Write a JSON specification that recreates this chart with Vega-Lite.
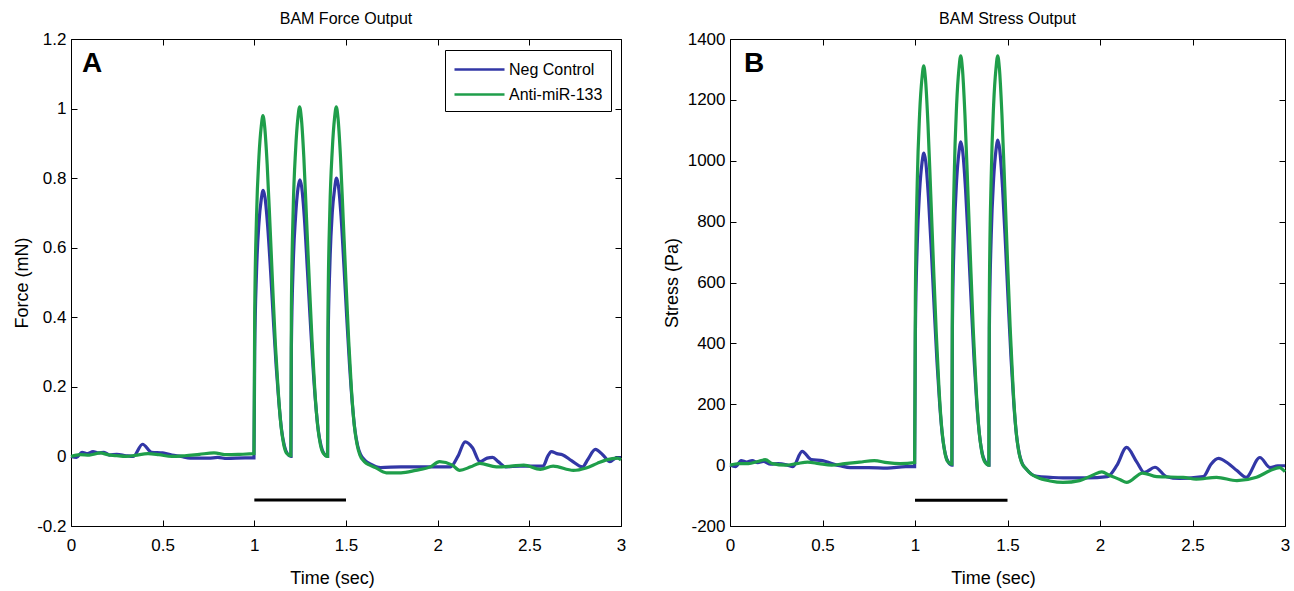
{
  "$schema": "https://vega.github.io/schema/vega-lite/v6.json",
  "bounds": "flush",
  "spacing": 109,
  "padding": {"left": 13, "top": 11, "right": 5, "bottom": 5},
  "datasets": {
    "A": [
      {"s":"Neg Control","t":0,"v":0},{"s":"Neg Control","t":0.03,"v":-0.003},{"s":"Neg Control","t":0.06,"v":0.012},{"s":"Neg Control","t":0.09,"v":0.008},{"s":"Neg Control","t":0.12,"v":0.014},{"s":"Neg Control","t":0.15,"v":0.01},{"s":"Neg Control","t":0.18,"v":0.012},{"s":"Neg Control","t":0.21,"v":0.004},{"s":"Neg Control","t":0.25,"v":0.006},{"s":"Neg Control","t":0.3,"v":0.002},{"s":"Neg Control","t":0.34,"v":0},{"s":"Neg Control","t":0.39,"v":0.035},{"s":"Neg Control","t":0.44,"v":0.012},{"s":"Neg Control","t":0.5,"v":0.01},{"s":"Neg Control","t":0.55,"v":0.004},{"s":"Neg Control","t":0.6,"v":0},{"s":"Neg Control","t":0.65,"v":-0.005},{"s":"Neg Control","t":0.75,"v":-0.005},{"s":"Neg Control","t":0.8,"v":-0.003},{"s":"Neg Control","t":0.85,"v":-0.006},{"s":"Neg Control","t":0.95,"v":-0.004},{"s":"Neg Control","t":0.998,"v":-0.004},
      {"s":"Neg Control","t":1.002,"v":0.3},{"s":"Neg Control","t":1.012,"v":0.53},{"s":"Neg Control","t":1.025,"v":0.67},{"s":"Neg Control","t":1.038,"v":0.74},{"s":"Neg Control","t":1.048,"v":0.765},{"s":"Neg Control","t":1.058,"v":0.745},{"s":"Neg Control","t":1.073,"v":0.66},{"s":"Neg Control","t":1.089,"v":0.53},{"s":"Neg Control","t":1.104,"v":0.39},{"s":"Neg Control","t":1.119,"v":0.26},{"s":"Neg Control","t":1.134,"v":0.155},{"s":"Neg Control","t":1.149,"v":0.075},{"s":"Neg Control","t":1.164,"v":0.03},{"s":"Neg Control","t":1.18,"v":0.008},{"s":"Neg Control","t":1.2,"v":0},
      {"s":"Neg Control","t":1.202,"v":0.31},{"s":"Neg Control","t":1.212,"v":0.55},{"s":"Neg Control","t":1.225,"v":0.69},{"s":"Neg Control","t":1.238,"v":0.77},{"s":"Neg Control","t":1.248,"v":0.795},{"s":"Neg Control","t":1.258,"v":0.775},{"s":"Neg Control","t":1.273,"v":0.685},{"s":"Neg Control","t":1.289,"v":0.54},{"s":"Neg Control","t":1.304,"v":0.4},{"s":"Neg Control","t":1.319,"v":0.265},{"s":"Neg Control","t":1.334,"v":0.155},{"s":"Neg Control","t":1.349,"v":0.075},{"s":"Neg Control","t":1.364,"v":0.03},{"s":"Neg Control","t":1.38,"v":0.008},{"s":"Neg Control","t":1.4,"v":0},
      {"s":"Neg Control","t":1.402,"v":0.31},{"s":"Neg Control","t":1.412,"v":0.55},{"s":"Neg Control","t":1.425,"v":0.7},{"s":"Neg Control","t":1.438,"v":0.77},{"s":"Neg Control","t":1.448,"v":0.8},{"s":"Neg Control","t":1.458,"v":0.78},{"s":"Neg Control","t":1.473,"v":0.69},{"s":"Neg Control","t":1.489,"v":0.545},{"s":"Neg Control","t":1.504,"v":0.4},{"s":"Neg Control","t":1.519,"v":0.265},{"s":"Neg Control","t":1.534,"v":0.155},{"s":"Neg Control","t":1.549,"v":0.075},{"s":"Neg Control","t":1.564,"v":0.03},{"s":"Neg Control","t":1.58,"v":0.005},{"s":"Neg Control","t":1.605,"v":-0.012},{"s":"Neg Control","t":1.635,"v":-0.022},{"s":"Neg Control","t":1.665,"v":-0.03},
      {"s":"Neg Control","t":1.69,"v":-0.032},{"s":"Neg Control","t":1.8,"v":-0.03},{"s":"Neg Control","t":1.95,"v":-0.03},{"s":"Neg Control","t":2.07,"v":-0.03},{"s":"Neg Control","t":2.11,"v":0},{"s":"Neg Control","t":2.15,"v":0.042},{"s":"Neg Control","t":2.19,"v":0.025},{"s":"Neg Control","t":2.23,"v":-0.015},{"s":"Neg Control","t":2.27,"v":-0.005},{"s":"Neg Control","t":2.3,"v":-0.003},{"s":"Neg Control","t":2.33,"v":-0.015},{"s":"Neg Control","t":2.37,"v":-0.03},{"s":"Neg Control","t":2.45,"v":-0.028},{"s":"Neg Control","t":2.575,"v":-0.028},{"s":"Neg Control","t":2.6,"v":0},{"s":"Neg Control","t":2.62,"v":0.014},{"s":"Neg Control","t":2.65,"v":0.008},{"s":"Neg Control","t":2.68,"v":0.005},{"s":"Neg Control","t":2.73,"v":-0.012},{"s":"Neg Control","t":2.79,"v":-0.03},{"s":"Neg Control","t":2.82,"v":-0.008},{"s":"Neg Control","t":2.86,"v":0.02},{"s":"Neg Control","t":2.9,"v":0.005},{"s":"Neg Control","t":2.94,"v":-0.015},{"s":"Neg Control","t":2.97,"v":-0.005},{"s":"Neg Control","t":3,"v":-0.003},
      {"s":"Anti-miR-133","t":0,"v":0},{"s":"Anti-miR-133","t":0.05,"v":0.005},{"s":"Anti-miR-133","t":0.1,"v":0.004},{"s":"Anti-miR-133","t":0.16,"v":0.01},{"s":"Anti-miR-133","t":0.2,"v":0.005},{"s":"Anti-miR-133","t":0.25,"v":0.002},{"s":"Anti-miR-133","t":0.3,"v":0},{"s":"Anti-miR-133","t":0.35,"v":0.003},{"s":"Anti-miR-133","t":0.42,"v":0.008},{"s":"Anti-miR-133","t":0.48,"v":0.005},{"s":"Anti-miR-133","t":0.55,"v":0},{"s":"Anti-miR-133","t":0.62,"v":0.002},{"s":"Anti-miR-133","t":0.7,"v":0.006},{"s":"Anti-miR-133","t":0.78,"v":0.01},{"s":"Anti-miR-133","t":0.85,"v":0.005},{"s":"Anti-miR-133","t":0.92,"v":0.006},{"s":"Anti-miR-133","t":0.998,"v":0.008},
      {"s":"Anti-miR-133","t":1.002,"v":0.41},{"s":"Anti-miR-133","t":1.012,"v":0.69},{"s":"Anti-miR-133","t":1.025,"v":0.86},{"s":"Anti-miR-133","t":1.038,"v":0.95},{"s":"Anti-miR-133","t":1.047,"v":0.98},{"s":"Anti-miR-133","t":1.056,"v":0.95},{"s":"Anti-miR-133","t":1.07,"v":0.84},{"s":"Anti-miR-133","t":1.085,"v":0.67},{"s":"Anti-miR-133","t":1.1,"v":0.49},{"s":"Anti-miR-133","t":1.115,"v":0.32},{"s":"Anti-miR-133","t":1.13,"v":0.19},{"s":"Anti-miR-133","t":1.145,"v":0.09},{"s":"Anti-miR-133","t":1.16,"v":0.035},{"s":"Anti-miR-133","t":1.175,"v":0.01},{"s":"Anti-miR-133","t":1.199,"v":0.002},
      {"s":"Anti-miR-133","t":1.202,"v":0.42},{"s":"Anti-miR-133","t":1.212,"v":0.71},{"s":"Anti-miR-133","t":1.225,"v":0.88},{"s":"Anti-miR-133","t":1.238,"v":0.975},{"s":"Anti-miR-133","t":1.247,"v":1.005},{"s":"Anti-miR-133","t":1.256,"v":0.975},{"s":"Anti-miR-133","t":1.27,"v":0.86},{"s":"Anti-miR-133","t":1.285,"v":0.68},{"s":"Anti-miR-133","t":1.3,"v":0.5},{"s":"Anti-miR-133","t":1.315,"v":0.33},{"s":"Anti-miR-133","t":1.33,"v":0.19},{"s":"Anti-miR-133","t":1.345,"v":0.09},{"s":"Anti-miR-133","t":1.36,"v":0.035},{"s":"Anti-miR-133","t":1.375,"v":0.01},{"s":"Anti-miR-133","t":1.399,"v":0},
      {"s":"Anti-miR-133","t":1.402,"v":0.42},{"s":"Anti-miR-133","t":1.412,"v":0.71},{"s":"Anti-miR-133","t":1.425,"v":0.88},{"s":"Anti-miR-133","t":1.438,"v":0.975},{"s":"Anti-miR-133","t":1.447,"v":1.005},{"s":"Anti-miR-133","t":1.456,"v":0.975},{"s":"Anti-miR-133","t":1.47,"v":0.86},{"s":"Anti-miR-133","t":1.485,"v":0.68},{"s":"Anti-miR-133","t":1.5,"v":0.5},{"s":"Anti-miR-133","t":1.515,"v":0.33},{"s":"Anti-miR-133","t":1.53,"v":0.19},{"s":"Anti-miR-133","t":1.545,"v":0.09},{"s":"Anti-miR-133","t":1.56,"v":0.035},{"s":"Anti-miR-133","t":1.575,"v":0.005},{"s":"Anti-miR-133","t":1.6,"v":-0.015},{"s":"Anti-miR-133","t":1.63,"v":-0.025},{"s":"Anti-miR-133","t":1.66,"v":-0.032},
      {"s":"Anti-miR-133","t":1.72,"v":-0.047},{"s":"Anti-miR-133","t":1.8,"v":-0.047},{"s":"Anti-miR-133","t":1.88,"v":-0.04},{"s":"Anti-miR-133","t":1.96,"v":-0.03},{"s":"Anti-miR-133","t":2.01,"v":-0.015},{"s":"Anti-miR-133","t":2.08,"v":-0.025},{"s":"Anti-miR-133","t":2.12,"v":-0.04},{"s":"Anti-miR-133","t":2.18,"v":-0.03},{"s":"Anti-miR-133","t":2.23,"v":-0.02},{"s":"Anti-miR-133","t":2.32,"v":-0.03},{"s":"Anti-miR-133","t":2.4,"v":-0.028},{"s":"Anti-miR-133","t":2.47,"v":-0.025},{"s":"Anti-miR-133","t":2.56,"v":-0.037},{"s":"Anti-miR-133","t":2.63,"v":-0.028},{"s":"Anti-miR-133","t":2.74,"v":-0.04},{"s":"Anti-miR-133","t":2.81,"v":-0.033},{"s":"Anti-miR-133","t":2.87,"v":-0.02},{"s":"Anti-miR-133","t":2.92,"v":-0.01},{"s":"Anti-miR-133","t":2.98,"v":-0.005},{"s":"Anti-miR-133","t":3,"v":-0.01}
    ],
    "B": [
      {"s":"Neg Control","t":0,"v":0},{"s":"Neg Control","t":0.03,"v":-5},{"s":"Neg Control","t":0.06,"v":15},{"s":"Neg Control","t":0.09,"v":10},{"s":"Neg Control","t":0.12,"v":15},{"s":"Neg Control","t":0.15,"v":8},{"s":"Neg Control","t":0.18,"v":12},{"s":"Neg Control","t":0.22,"v":3},{"s":"Neg Control","t":0.26,"v":5},{"s":"Neg Control","t":0.31,"v":0},{"s":"Neg Control","t":0.34,"v":-5},{"s":"Neg Control","t":0.39,"v":45},{"s":"Neg Control","t":0.44,"v":18},{"s":"Neg Control","t":0.5,"v":15},{"s":"Neg Control","t":0.55,"v":5},{"s":"Neg Control","t":0.6,"v":-3},{"s":"Neg Control","t":0.65,"v":-8},{"s":"Neg Control","t":0.75,"v":-8},{"s":"Neg Control","t":0.85,"v":-10},{"s":"Neg Control","t":0.95,"v":-5},{"s":"Neg Control","t":0.998,"v":-5},
      {"s":"Neg Control","t":1.002,"v":430},{"s":"Neg Control","t":1.012,"v":723},{"s":"Neg Control","t":1.025,"v":902},{"s":"Neg Control","t":1.038,"v":994},{"s":"Neg Control","t":1.048,"v":1025},{"s":"Neg Control","t":1.058,"v":997},{"s":"Neg Control","t":1.073,"v":876},{"s":"Neg Control","t":1.089,"v":697},{"s":"Neg Control","t":1.104,"v":513},{"s":"Neg Control","t":1.119,"v":338},{"s":"Neg Control","t":1.134,"v":195},{"s":"Neg Control","t":1.149,"v":92},{"s":"Neg Control","t":1.164,"v":36},{"s":"Neg Control","t":1.18,"v":10},{"s":"Neg Control","t":1.2,"v":0},
      {"s":"Neg Control","t":1.202,"v":446},{"s":"Neg Control","t":1.212,"v":749},{"s":"Neg Control","t":1.225,"v":935},{"s":"Neg Control","t":1.238,"v":1030},{"s":"Neg Control","t":1.248,"v":1062},{"s":"Neg Control","t":1.258,"v":1030},{"s":"Neg Control","t":1.273,"v":908},{"s":"Neg Control","t":1.289,"v":722},{"s":"Neg Control","t":1.304,"v":531},{"s":"Neg Control","t":1.319,"v":350},{"s":"Neg Control","t":1.334,"v":202},{"s":"Neg Control","t":1.349,"v":96},{"s":"Neg Control","t":1.364,"v":37},{"s":"Neg Control","t":1.38,"v":11},{"s":"Neg Control","t":1.4,"v":0},
      {"s":"Neg Control","t":1.402,"v":449},{"s":"Neg Control","t":1.412,"v":753},{"s":"Neg Control","t":1.425,"v":940},{"s":"Neg Control","t":1.438,"v":1036},{"s":"Neg Control","t":1.448,"v":1068},{"s":"Neg Control","t":1.458,"v":1036},{"s":"Neg Control","t":1.473,"v":913},{"s":"Neg Control","t":1.489,"v":726},{"s":"Neg Control","t":1.504,"v":534},{"s":"Neg Control","t":1.519,"v":352},{"s":"Neg Control","t":1.534,"v":203},{"s":"Neg Control","t":1.549,"v":96},{"s":"Neg Control","t":1.564,"v":37},{"s":"Neg Control","t":1.58,"v":5},{"s":"Neg Control","t":1.605,"v":-15},{"s":"Neg Control","t":1.63,"v":-30},{"s":"Neg Control","t":1.66,"v":-37},
      {"s":"Neg Control","t":1.73,"v":-40},{"s":"Neg Control","t":1.8,"v":-42},{"s":"Neg Control","t":1.93,"v":-42},{"s":"Neg Control","t":2.04,"v":-38},{"s":"Neg Control","t":2.09,"v":-2},{"s":"Neg Control","t":2.144,"v":58},{"s":"Neg Control","t":2.2,"v":9},{"s":"Neg Control","t":2.24,"v":-24},{"s":"Neg Control","t":2.297,"v":-7},{"s":"Neg Control","t":2.36,"v":-38},{"s":"Neg Control","t":2.43,"v":-44},{"s":"Neg Control","t":2.558,"v":-38},{"s":"Neg Control","t":2.6,"v":3},{"s":"Neg Control","t":2.64,"v":22},{"s":"Neg Control","t":2.69,"v":7},{"s":"Neg Control","t":2.74,"v":-18},{"s":"Neg Control","t":2.79,"v":-40},{"s":"Neg Control","t":2.864,"v":25},{"s":"Neg Control","t":2.92,"v":-8},{"s":"Neg Control","t":2.96,"v":-2},{"s":"Neg Control","t":3,"v":-2},
      {"s":"Anti-miR-133","t":0,"v":0},{"s":"Anti-miR-133","t":0.05,"v":5},{"s":"Anti-miR-133","t":0.1,"v":5},{"s":"Anti-miR-133","t":0.15,"v":12},{"s":"Anti-miR-133","t":0.19,"v":18},{"s":"Anti-miR-133","t":0.23,"v":5},{"s":"Anti-miR-133","t":0.3,"v":0},{"s":"Anti-miR-133","t":0.36,"v":5},{"s":"Anti-miR-133","t":0.42,"v":10},{"s":"Anti-miR-133","t":0.48,"v":5},{"s":"Anti-miR-133","t":0.55,"v":0},{"s":"Anti-miR-133","t":0.62,"v":5},{"s":"Anti-miR-133","t":0.7,"v":10},{"s":"Anti-miR-133","t":0.78,"v":15},{"s":"Anti-miR-133","t":0.85,"v":8},{"s":"Anti-miR-133","t":0.92,"v":5},{"s":"Anti-miR-133","t":0.998,"v":8},
      {"s":"Anti-miR-133","t":1.002,"v":551},{"s":"Anti-miR-133","t":1.012,"v":925},{"s":"Anti-miR-133","t":1.025,"v":1155},{"s":"Anti-miR-133","t":1.038,"v":1273},{"s":"Anti-miR-133","t":1.047,"v":1312},{"s":"Anti-miR-133","t":1.056,"v":1273},{"s":"Anti-miR-133","t":1.07,"v":1122},{"s":"Anti-miR-133","t":1.085,"v":892},{"s":"Anti-miR-133","t":1.1,"v":656},{"s":"Anti-miR-133","t":1.115,"v":433},{"s":"Anti-miR-133","t":1.13,"v":249},{"s":"Anti-miR-133","t":1.145,"v":118},{"s":"Anti-miR-133","t":1.16,"v":46},{"s":"Anti-miR-133","t":1.175,"v":13},{"s":"Anti-miR-133","t":1.199,"v":3},
      {"s":"Anti-miR-133","t":1.202,"v":565},{"s":"Anti-miR-133","t":1.212,"v":948},{"s":"Anti-miR-133","t":1.225,"v":1184},{"s":"Anti-miR-133","t":1.238,"v":1305},{"s":"Anti-miR-133","t":1.247,"v":1345},{"s":"Anti-miR-133","t":1.256,"v":1305},{"s":"Anti-miR-133","t":1.27,"v":1150},{"s":"Anti-miR-133","t":1.285,"v":915},{"s":"Anti-miR-133","t":1.3,"v":673},{"s":"Anti-miR-133","t":1.315,"v":444},{"s":"Anti-miR-133","t":1.33,"v":256},{"s":"Anti-miR-133","t":1.345,"v":121},{"s":"Anti-miR-133","t":1.36,"v":47},{"s":"Anti-miR-133","t":1.375,"v":13},{"s":"Anti-miR-133","t":1.399,"v":0},
      {"s":"Anti-miR-133","t":1.402,"v":565},{"s":"Anti-miR-133","t":1.412,"v":948},{"s":"Anti-miR-133","t":1.425,"v":1184},{"s":"Anti-miR-133","t":1.438,"v":1305},{"s":"Anti-miR-133","t":1.447,"v":1345},{"s":"Anti-miR-133","t":1.456,"v":1305},{"s":"Anti-miR-133","t":1.47,"v":1150},{"s":"Anti-miR-133","t":1.485,"v":915},{"s":"Anti-miR-133","t":1.5,"v":673},{"s":"Anti-miR-133","t":1.515,"v":444},{"s":"Anti-miR-133","t":1.53,"v":256},{"s":"Anti-miR-133","t":1.545,"v":121},{"s":"Anti-miR-133","t":1.56,"v":47},{"s":"Anti-miR-133","t":1.575,"v":10},{"s":"Anti-miR-133","t":1.6,"v":-12},{"s":"Anti-miR-133","t":1.625,"v":-28},
      {"s":"Anti-miR-133","t":1.66,"v":-40},{"s":"Anti-miR-133","t":1.73,"v":-52},{"s":"Anti-miR-133","t":1.8,"v":-57},{"s":"Anti-miR-133","t":1.89,"v":-51},{"s":"Anti-miR-133","t":1.96,"v":-33},{"s":"Anti-miR-133","t":2.01,"v":-22},{"s":"Anti-miR-133","t":2.05,"v":-33},{"s":"Anti-miR-133","t":2.11,"v":-48},{"s":"Anti-miR-133","t":2.144,"v":-57},{"s":"Anti-miR-133","t":2.23,"v":-26},{"s":"Anti-miR-133","t":2.306,"v":-38},{"s":"Anti-miR-133","t":2.45,"v":-40},{"s":"Anti-miR-133","t":2.52,"v":-46},{"s":"Anti-miR-133","t":2.63,"v":-40},{"s":"Anti-miR-133","t":2.74,"v":-51},{"s":"Anti-miR-133","t":2.846,"v":-40},{"s":"Anti-miR-133","t":2.92,"v":-18},{"s":"Anti-miR-133","t":2.97,"v":-8},{"s":"Anti-miR-133","t":3,"v":-22}
    ]
  },
  "hconcat": [
    {
      "width": 550,
      "height": 487,
      "title": {"text": "BAM Force Output"},
      "data": {"name": "A"},
      "layer": [
        {
          "transform": [{"filter": "datum.s == 'Neg Control'"}],
          "mark": {"type": "line", "strokeWidth": 3.2, "interpolate": "monotone"},
          "encoding": {
            "x": {"field": "t", "type": "quantitative", "scale": {"domain": [0, 3], "nice": false},
              "axis": {"orient": "bottom", "title": "Time (sec)", "values": [0, 0.5, 1, 1.5, 2, 2.5, 3], "labelExpr": "'' + datum.value", "labelPadding": 17, "titleX": 261, "titleY": 43}},
            "y": {"field": "v", "type": "quantitative", "scale": {"domain": [-0.2, 1.2], "nice": false, "zero": false},
              "axis": {"orient": "left", "title": "Force (mN)", "values": [-0.2, 0, 0.2, 0.4, 0.6, 0.8, 1, 1.2], "labelExpr": "'' + datum.value", "labelPadding": 11, "titleX": -40}},
            "color": {"field": "s", "type": "nominal", "scale": {"domain": ["Neg Control", "Anti-miR-133"], "range": ["#3237a6", "#1f9e4a"]},
              "legend": {"title": null, "orient": "none", "legendX": 374, "legendY": 11, "symbolType": "M-2.5,0H2.5", "symbolSize": 400, "symbolOffset": 15, "symbolStrokeWidth": 2.6, "labelOffset": 18, "labelFontSize": 16, "labelColor": "black", "padding": 8, "rowPadding": 5, "strokeColor": "black", "fillColor": "white", "cornerRadius": 0}}
          }
        },
        {
          "transform": [{"filter": "datum.s == 'Anti-miR-133'"}],
          "mark": {"type": "line", "strokeWidth": 3.2, "interpolate": "monotone"},
          "encoding": {
            "x": {"field": "t", "type": "quantitative", "axis": null},
            "y": {"field": "v", "type": "quantitative", "axis": null},
            "color": {"field": "s", "type": "nominal", "legend": null}
          }
        },
        {
          "data": {"values": [{"start": 1, "end": 1.5, "level": -0.125}]},
          "mark": {"type": "rule", "strokeWidth": 3, "color": "black"},
          "encoding": {
            "x": {"field": "start", "type": "quantitative", "axis": null},
            "x2": {"field": "end"},
            "y": {"field": "level", "type": "quantitative", "axis": null}
          }
        },
        {
          "data": {"values": [{"label": "A"}]},
          "mark": {"type": "text", "fontSize": 28, "fontWeight": "bold", "font": "Liberation Sans", "align": "left", "baseline": "middle", "color": "black"},
          "encoding": {
            "text": {"field": "label"},
            "x": {"datum": 0.06, "type": "quantitative", "axis": {"orient": "top", "labels": false, "title": null, "values": [0, 0.5, 1, 1.5, 2, 2.5, 3]}},
            "y": {"datum": 1.128, "type": "quantitative", "axis": {"orient": "right", "labels": false, "title": null, "values": [-0.2, 0, 0.2, 0.4, 0.6, 0.8, 1, 1.2]}}
          }
        }
      ]
    },
    {
      "width": 555,
      "height": 487,
      "title": {"text": "BAM Stress Output"},
      "data": {"name": "B"},
      "layer": [
        {
          "transform": [{"filter": "datum.s == 'Neg Control'"}],
          "mark": {"type": "line", "strokeWidth": 3.2, "interpolate": "monotone"},
          "encoding": {
            "x": {"field": "t", "type": "quantitative", "scale": {"domain": [0, 3], "nice": false},
              "axis": {"orient": "bottom", "title": "Time (sec)", "values": [0, 0.5, 1, 1.5, 2, 2.5, 3], "labelExpr": "'' + datum.value", "labelPadding": 17, "titleX": 263, "titleY": 43}},
            "y": {"field": "v", "type": "quantitative", "scale": {"domain": [-200, 1400], "nice": false, "zero": false},
              "axis": {"orient": "left", "title": "Stress (Pa)", "values": [-200, 0, 200, 400, 600, 800, 1000, 1200, 1400], "labelExpr": "'' + datum.value", "labelPadding": 11, "titleX": -49}},
            "color": {"field": "s", "type": "nominal", "scale": {"domain": ["Neg Control", "Anti-miR-133"], "range": ["#3237a6", "#1f9e4a"]},
              "legend": {"title": null, "orient": "none", "legendX": 376, "legendY": 11, "symbolType": "M-2.5,0H2.5", "symbolSize": 400, "symbolOffset": 15, "symbolStrokeWidth": 2.6, "labelOffset": 18, "labelFontSize": 16, "labelColor": "black", "padding": 8, "rowPadding": 5, "strokeColor": "black", "fillColor": "white", "cornerRadius": 0}}
          }
        },
        {
          "transform": [{"filter": "datum.s == 'Anti-miR-133'"}],
          "mark": {"type": "line", "strokeWidth": 3.2, "interpolate": "monotone"},
          "encoding": {
            "x": {"field": "t", "type": "quantitative", "axis": null},
            "y": {"field": "v", "type": "quantitative", "axis": null},
            "color": {"field": "s", "type": "nominal", "legend": null}
          }
        },
        {
          "data": {"values": [{"start": 1, "end": 1.5, "level": -115}]},
          "mark": {"type": "rule", "strokeWidth": 3, "color": "black"},
          "encoding": {
            "x": {"field": "start", "type": "quantitative", "axis": null},
            "x2": {"field": "end"},
            "y": {"field": "level", "type": "quantitative", "axis": null}
          }
        },
        {
          "data": {"values": [{"label": "B"}]},
          "mark": {"type": "text", "fontSize": 28, "fontWeight": "bold", "font": "Liberation Sans", "align": "left", "baseline": "middle", "color": "black"},
          "encoding": {
            "text": {"field": "label"},
            "x": {"datum": 0.075, "type": "quantitative", "axis": {"orient": "top", "labels": false, "title": null, "values": [0, 0.5, 1, 1.5, 2, 2.5, 3]}},
            "y": {"datum": 1318, "type": "quantitative", "axis": {"orient": "right", "labels": false, "title": null, "values": [-200, 0, 200, 400, 600, 800, 1000, 1200, 1400]}}
          }
        }
      ]
    }
  ],
  "config": {
    "font": "Liberation Sans",
    "view": {"stroke": null},
    "axis": {
      "grid": false,
      "domainColor": "black",
      "domainWidth": 1,
      "tickColor": "black",
      "tickWidth": 1,
      "tickSize": -6,
      "labelColor": "black",
      "titleColor": "black",
      "labelFont": "Liberation Sans",
      "titleFont": "Liberation Sans",
      "labelFontSize": 17,
      "titleFontSize": 18,
      "titleFontWeight": "normal",
      "labelFlush": false,
      "labelOverlap": false
    },
    "legend": {
      "labelFont": "Liberation Sans"
    },
    "title": {
      "font": "Liberation Sans",
      "fontSize": 16,
      "fontWeight": "normal",
      "color": "black",
      "offset": 3,
      "anchor": "middle"
    }
  }
}
